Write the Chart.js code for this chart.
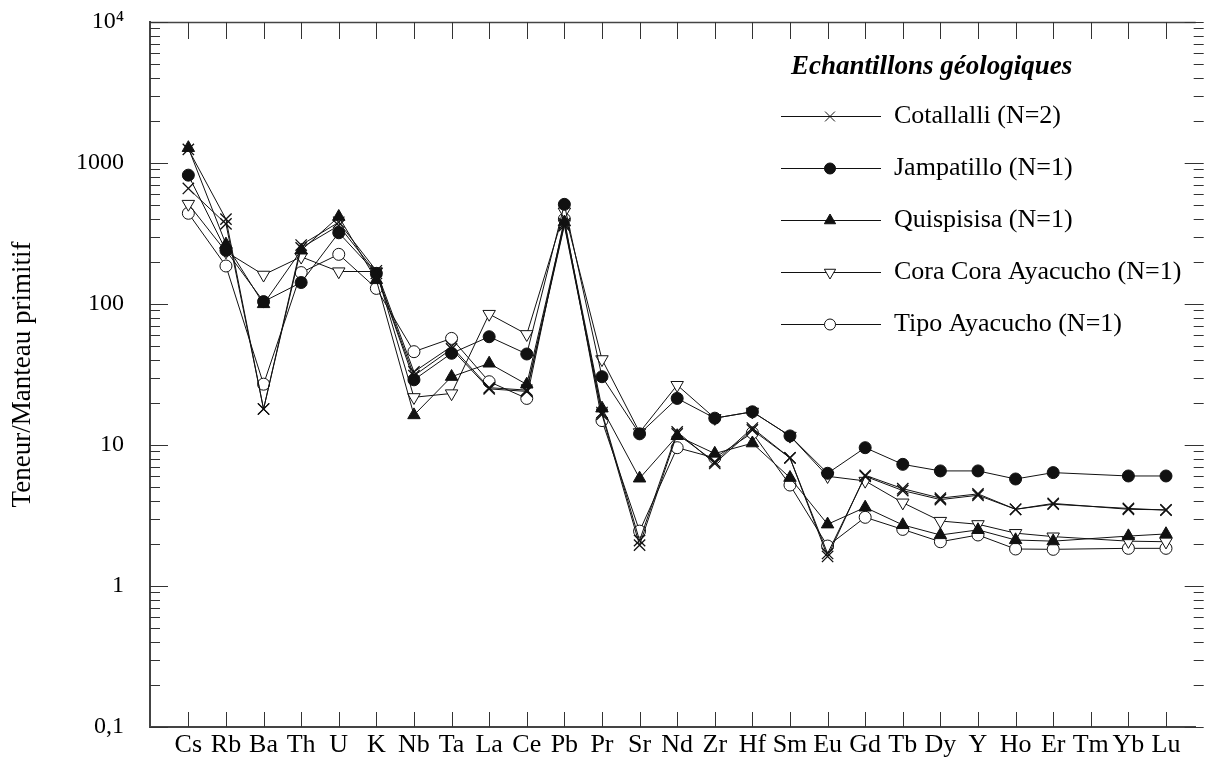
<!DOCTYPE html>
<html>
<head>
<meta charset="utf-8">
<script src="https://cdn.jsdelivr.net/npm/chart.js@4.4.0/dist/chart.umd.min.js"></script>
<style>
  html, body { margin: 0; padding: 0; background: #fff; }
  #wrap { width: 1205px; height: 760px; }
</style>
</head>
<body>
<div id="wrap"><canvas id="spider" width="1205" height="760"></canvas></div>
<script>
// elements, normalised to primitive mantle (Tm not analysed)
const elements = ['Cs', 'Rb', 'Ba', 'Th', 'U', 'K', 'Nb', 'Ta', 'La', 'Ce', 'Pb', 'Pr', 'Sr', 'Nd', 'Zr', 'Hf', 'Sm', 'Eu', 'Gd', 'Tb', 'Dy', 'Y', 'Ho', 'Er', 'Tm', 'Yb', 'Lu'];

// Cotallalli, two samples
const cotallalliA = [1250, 400, 18, 262, 380, 172, 33, 50, 25.5, 24.5, 370, 17, 2.1, 12.4, 7.4, 12.8, 8.1, 1.62, 6.1, 4.9, 4.2, 4.5, 3.5, 3.85, null, 3.5, 3.47];
const cotallalliB = [660, 370, 18, 250, 360, 165, 31, 48, 25, 24, 360, 16.5, 1.95, 12, 7.6, 13.2, 8.1, 1.7, 6.0, 4.75, 4.1, 4.4, 3.5, 3.8, null, 3.55, 3.45];
const jampatillo = [820, 240, 104, 142, 320, 165, 29, 44.7, 58.6, 44.2, 509, 30.5, 12, 21.4, 15.5, 17.2, 11.6, 6.3, 9.57, 7.29, 6.55, 6.55, 5.74, 6.37, null, 6.03, 6.03];
const quispisisa = [1280, 265, 100, 240, 416, 148, 16.3, 30.5, 37.9, 26.9, 380, 18.2, 5.8, 11.6, 8.7, 10.3, 5.86, 2.74, 3.61, 2.71, 2.3, 2.5, 2.12, 2.08, null, 2.26, 2.34];
const coraCora = [512, 235, 161, 216, 170, 170, 21.8, 23.2, 84.9, 61, 452, 40.5, 12.3, 26.6, 15.5, 17.2, 11.6, 6.0, 5.56, 3.9, 2.89, 2.74, 2.37, 2.24, null, 2.08, 2.06];
const tipoAyacucho = [440, 186, 27, 167, 225, 129, 45.9, 57, 28.1, 21.4, 400, 14.9, 2.45, 9.57, 8.1, 12.2, 5.2, 1.92, 3.07, 2.52, 2.06, 2.3, 1.83, 1.82, null, 1.85, 1.85];

const yTickValues = [0.1, 1, 10, 100, 1000, 10000];
const yTickLabels = ['0,1', '1', '10', '100', '1000', '10⁴'];

const legendTitle = 'Echantillons géologiques';
const seriesNames = ['Cotallalli (N=2)', 'Jampatillo (N=1)', 'Quispisisa (N=1)', 'Cora Cora Ayacucho (N=1)', 'Tipo Ayacucho (N=1)'];

const serif = '"Liberation Serif", "Times New Roman", serif';
Chart.defaults.font.family = serif;
Chart.defaults.color = '#000';

const toPoints = arr => arr.map((v, i) => ({ x: i, y: v }));

function series(label, values, style, extra) {
  return Object.assign({
    label: label,
    data: toPoints(values),
    borderColor: '#111',
    borderWidth: 1,
    pointBorderColor: '#111',
    pointBorderWidth: 1,
    pointStyle: style,
    spanGaps: true,
    tension: 0,
    fill: false
  }, extra);
}

const datasets = [
  series(seriesNames[0], cotallalliA, 'crossRot', { pointRadius: 8, pointBackgroundColor: '#111', pointBorderWidth: 1.3 }),
  series('Cotallalli b', cotallalliB, 'crossRot', { pointRadius: 8, pointBackgroundColor: '#111', pointBorderWidth: 1.3, hideInLegend: true }),
  series(seriesNames[1], jampatillo, 'circle', { pointRadius: 6, pointBackgroundColor: '#111' }),
  series(seriesNames[2], quispisisa, 'triangle', { pointRadius: 7.2, pointBackgroundColor: '#111' }),
  series(seriesNames[3], coraCora, 'triangle', { pointRadius: 7.2, pointRotation: 180, pointBackgroundColor: '#fff' }),
  series(seriesNames[4], tipoAyacucho, 'circle', { pointRadius: 6, pointBackgroundColor: '#fff' })
];

// frame: top line, inner ticks on left/top/bottom, outer ticks on right
const frameTicks = {
  id: 'frameTicks',
  afterDraw(chart) {
    const { ctx, chartArea: a, scales: { x, y } } = chart;
    ctx.save();
    ctx.strokeStyle = '#444';
    ctx.lineWidth = 1.6;
    ctx.beginPath();
    ctx.moveTo(a.left, a.top + 0.5);
    ctx.lineTo(a.right, a.top + 0.5);
    ctx.stroke();

    ctx.lineWidth = 1;
    ctx.strokeStyle = '#333';
    ctx.beginPath();
    for (let i = 0; i < elements.length; i++) {
      const px = Math.round(x.getPixelForValue(i)) + 0.5;
      ctx.moveTo(px, a.top); ctx.lineTo(px, a.top + 17);
      ctx.moveTo(px, a.bottom); ctx.lineTo(px, a.bottom - 15);
    }
    for (let e = -1; e <= 4; e++) {
      for (let k = 1; k <= 9; k++) {
        if (e === 4 && k > 1) break;
        const py = Math.round(y.getPixelForValue(k * Math.pow(10, e))) + 0.5;
        const major = k === 1;
        ctx.moveTo(a.left, py); ctx.lineTo(a.left + (major ? 18 : 10), py);
        ctx.moveTo(a.right + 8, py); ctx.lineTo(a.right - (major ? 11 : 2), py);
      }
    }
    ctx.stroke();
    ctx.restore();
  }
};

const boxLegend = {
  id: 'boxLegend',
  afterDraw(chart) {
    const { ctx } = chart;
    const draw = Chart.helpers && Chart.helpers.drawPoint;
    ctx.save();
    ctx.fillStyle = '#000';
    ctx.textBaseline = 'middle';
    ctx.textAlign = 'left';
    ctx.font = 'italic bold 27px ' + serif;
    ctx.fillText(legendTitle, 791, 67);

    ctx.font = '26px ' + serif;
    const shown = chart.data.datasets.filter(d => !d.hideInLegend);
    const sizes = [7, 5.5, 6.5, 6.5, 5.5];
    shown.forEach((d, i) => {
      const ry = 116 + i * 52;
      ctx.strokeStyle = '#111';
      ctx.lineWidth = 1;
      ctx.beginPath();
      ctx.moveTo(781, ry + 0.5);
      ctx.lineTo(881, ry + 0.5);
      ctx.stroke();
      if (draw) {
        ctx.fillStyle = d.pointBackgroundColor;
        ctx.strokeStyle = '#111';
        ctx.lineWidth = 1;
        draw(ctx, { pointStyle: d.pointStyle, rotation: d.pointRotation || 0, radius: sizes[i], borderWidth: 1 }, 830, ry + 0.5);
      }
      ctx.fillStyle = '#000';
      ctx.fillText(d.label, 894, ry);
    });
    ctx.restore();
  }
};

new Chart(document.getElementById('spider'), {
  type: 'line',
  data: { datasets: datasets },
  options: {
    responsive: false,
    animation: false,
    layout: { padding: { top: 22, right: 8, left: 0, bottom: 0 } },
    plugins: { legend: { display: false }, tooltip: { enabled: false } },
    scales: {
      x: {
        type: 'linear',
        min: -1.02,
        max: 26.79,
        bounds: 'data',
        afterBuildTicks: s => { s.ticks = elements.map((_, i) => ({ value: i })); },
        afterFit: s => { s.height = 33; s.paddingLeft = 0; s.paddingRight = 0; },
        grid: { display: false, drawTicks: false },
        border: { display: true, color: '#444', width: 2 },
        ticks: {
          autoSkip: false, maxRotation: 0, minRotation: 0, padding: 3,
          color: '#000', font: { size: 26 },
          callback: v => elements[Math.round(v)] || ''
        }
      },
      y: {
        type: 'logarithmic',
        min: 0.1,
        max: 10000,
        afterBuildTicks: s => { s.ticks = yTickValues.map(v => ({ value: v, major: true })); },
        afterFit: s => { s.width = 150; s.paddingTop = 0; s.paddingBottom = 0; },
        grid: { display: false, drawTicks: false },
        border: { display: true, color: '#444', width: 2 },
        ticks: {
          autoSkip: false, padding: 26, color: '#000', font: { size: 24 },
          callback: v => {
            const i = yTickValues.findIndex(t => Math.abs(Math.log10(t) - Math.log10(v)) < 1e-6);
            return i >= 0 ? yTickLabels[i] : '';
          }
        },
        title: {
          display: true, text: 'Teneur/Manteau primitif', color: '#000',
          font: { size: 27 }, padding: { top: 7, bottom: 0 }
        }
      }
    }
  },
  plugins: [frameTicks, boxLegend]
});
</script>
</body>
</html>
